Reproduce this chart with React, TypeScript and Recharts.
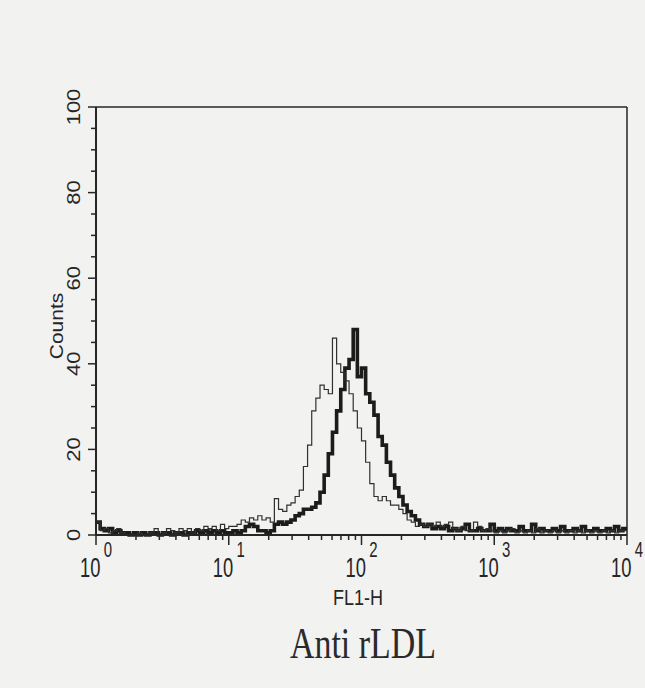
import React from 'react';
import { LineChart, Line, XAxis, YAxis, ReferenceLine } from 'recharts';

// FL1-H histogram, 256 channels over 4 log decades, read in bins of 2 channels
const CHANNELS = 256;
const BIN = 2;

// control (thin trace)
const thinCounts = [
  3, 1, 1.5, 0.5, 1, 1.5, 0.5, 0, 0, 0,
  0.5, 0, 0, 0.5, 1.5, 0, 0.5, 1.5, 1, 0.5,
  1.5, 1, 1.5, 0.5, 1.5, 1, 2, 1.5, 2, 1,
  2.5, 1.5, 2, 2, 2.5, 3.5, 3, 4, 3.5, 4.5,
  3.5, 4, 3, 8.5, 6, 5.5, 7, 7.5, 9, 10.5,
  16, 21, 29, 32, 35, 34, 33, 46, 40, 38,
  36, 33, 29, 25, 22, 17, 12, 9, 8, 9,
  8, 7, 7, 6, 5, 3.5, 3, 2, 2.5, 2,
  2.5, 2, 3, 2, 2.5, 3, 1.5, 1, 2, 1,
  1, 3, 2, 1, 1.5, 1, 0.5, 1, 0.5, 1,
  1.5, 0.5, 1, 0.5, 1, 0.5, 1.5, 0.5, 1, 0.5,
  1, 0.5, 1, 0.5, 1, 0.5, 1, 0.5, 1, 0.5,
  1, 0.5, 1, 0.5, 1, 0.5, 1, 1,
];

// anti rLDL (thick trace)
const thickCounts = [
  3, 1.5, 1, 1.5, 0.5, 1, 0.5, 0.5, 0, 0.5,
  0, 0.5, 0, 0.5, 0.5, 0, 0.5, 0.5, 0, 0.5,
  0.5, 0, 0.5, 0.5, 1, 0.5, 1, 0.5, 1, 0.5,
  1, 0.5, 0.5, 1, 0.5, 1, 2, 2.5, 2, 1,
  1, 0.5, 1, 2.5, 3, 2.5, 3, 3.5, 4.5, 5,
  6, 6, 6.5, 7.5, 10, 14, 19, 24, 29, 34,
  39, 41, 48, 37, 39, 33, 31, 28, 23, 21,
  17, 14, 11, 9, 7, 5.5, 4.5, 3.5, 2.5, 2,
  2.5, 1.5, 2, 1.5, 2, 1, 1.5, 1, 1.5, 2.5,
  1, 1, 1.5, 1, 1, 2.5, 1, 1.5, 1, 1.5,
  1, 1, 2, 1, 1, 2.5, 1, 1.5, 1, 1,
  1.5, 1, 2, 1, 1, 1.5, 1, 2, 1, 1,
  1.5, 1, 1, 1.5, 1, 2, 1, 1.5,
];

const yTicks = [0, 5, 10, 15, 20, 25, 30, 35, 40, 45, 50, 55, 60, 65, 70, 75, 80, 85, 90, 95, 100];
const decadeExponents = ['0', '1', '2', '3', '4'];
const minorSteps = [1, 2, 3, 4, 5, 6, 7, 8, 9];

const perDecade = CHANNELS / (decadeExponents.length - 1);
const xTicks = [
  ...decadeExponents.slice(0, -1).flatMap((_, d) =>
    minorSteps.map((k) => perDecade * (d + Math.log10(k)))
  ),
  CHANNELS,
];

const rows = thinCounts.map((v, i) => ({ ch: i * BIN, thin: v, thick: thickCounts[i] }));
rows.push({
  ch: CHANNELS,
  thin: thinCounts[thinCounts.length - 1],
  thick: thickCounts[thickCounts.length - 1],
});

const INK = '#262626';
const SANS = "'Liberation Sans', Arial, sans-serif";

const XTick = (props: any) => {
  const { x, y, payload } = props;
  const d = payload.value / perDecade;
  const major = Math.abs(d - Math.round(d)) < 1e-6;
  return (
    <g>
      <line x1={x} x2={x} y1={y} y2={y + (major ? 10 : 5)} stroke={INK} strokeWidth={1.5} />
      {major && (
        <text transform={`translate(${x - 16}, 577) scale(0.68, 1)`}
          style={{ fontSize: 27, fontFamily: SANS }} fill={INK}>
          10<tspan dx={5} dy={-20} style={{ fontSize: 22 }}>{decadeExponents[Math.round(d)]}</tspan>
        </text>
      )}
    </g>
  );
};

const YTick = (props: any) => {
  const { x, y, payload } = props;
  const v = payload.value;
  const major = v % 20 === 0;
  return (
    <g>
      <line x1={x - (major ? 8 : 5)} x2={x} y1={y} y2={y} stroke={INK} strokeWidth={1.5} />
      {major && (
        <text transform={`translate(${x - 16}, ${y}) rotate(-90) scale(1, 0.82)`}
          textAnchor="middle" style={{ fontSize: 22, fontFamily: SANS }} fill={INK}>{v}</text>
      )}
    </g>
  );
};

export default function App() {
  return (
    <div style={{ position: 'absolute', left: 0, top: 0, width: 645, height: 688, background: '#f2f2f1' }}>
      <LineChart width={645} height={688} data={rows}
        margin={{ top: 107, right: 18, bottom: 93, left: 0 }}>
        <XAxis dataKey="ch" type="number" domain={[0, CHANNELS]} ticks={xTicks} interval={0}
          tick={<XTick />} tickLine={false} tickSize={0} tickMargin={0} height={60}
          axisLine={{ stroke: INK, strokeWidth: 2 }} />
        <YAxis type="number" domain={[0, 100]} ticks={yTicks} interval={0}
          tick={<YTick />} tickLine={false} tickSize={0} tickMargin={0} width={96}
          axisLine={{ stroke: INK, strokeWidth: 2 }} />
        <ReferenceLine y={100} stroke={INK} strokeWidth={1.5} />
        <ReferenceLine x={CHANNELS} stroke={INK} strokeWidth={1.5} />
        <Line type="stepAfter" dataKey="thick" stroke="#1c1c1c" strokeWidth={3.6}
          dot={false} isAnimationActive={false} />
        <Line type="stepAfter" dataKey="thin" stroke="#303030" strokeWidth={1.2}
          dot={false} isAnimationActive={false} />
      </LineChart>
      <svg width={645} height={688} style={{ position: 'absolute', left: 0, top: 0, pointerEvents: 'none' }}>
        <text transform="translate(63, 326) rotate(-90) scale(1, 0.9)" textAnchor="middle"
          fontSize={21} fontFamily={SANS} fill={INK}>Counts</text>
        <text x={333} y={605} fontSize={22} fontFamily={SANS} fill={INK}
          textLength={50} lengthAdjust="spacingAndGlyphs">FL1-H</text>
        <text x={290} y={658} fontSize={45} fontFamily="'Liberation Serif', 'Times New Roman', serif"
          fill="#2a2a2a" textLength={146} lengthAdjust="spacingAndGlyphs">Anti rLDL</text>
      </svg>
    </div>
  );
}
